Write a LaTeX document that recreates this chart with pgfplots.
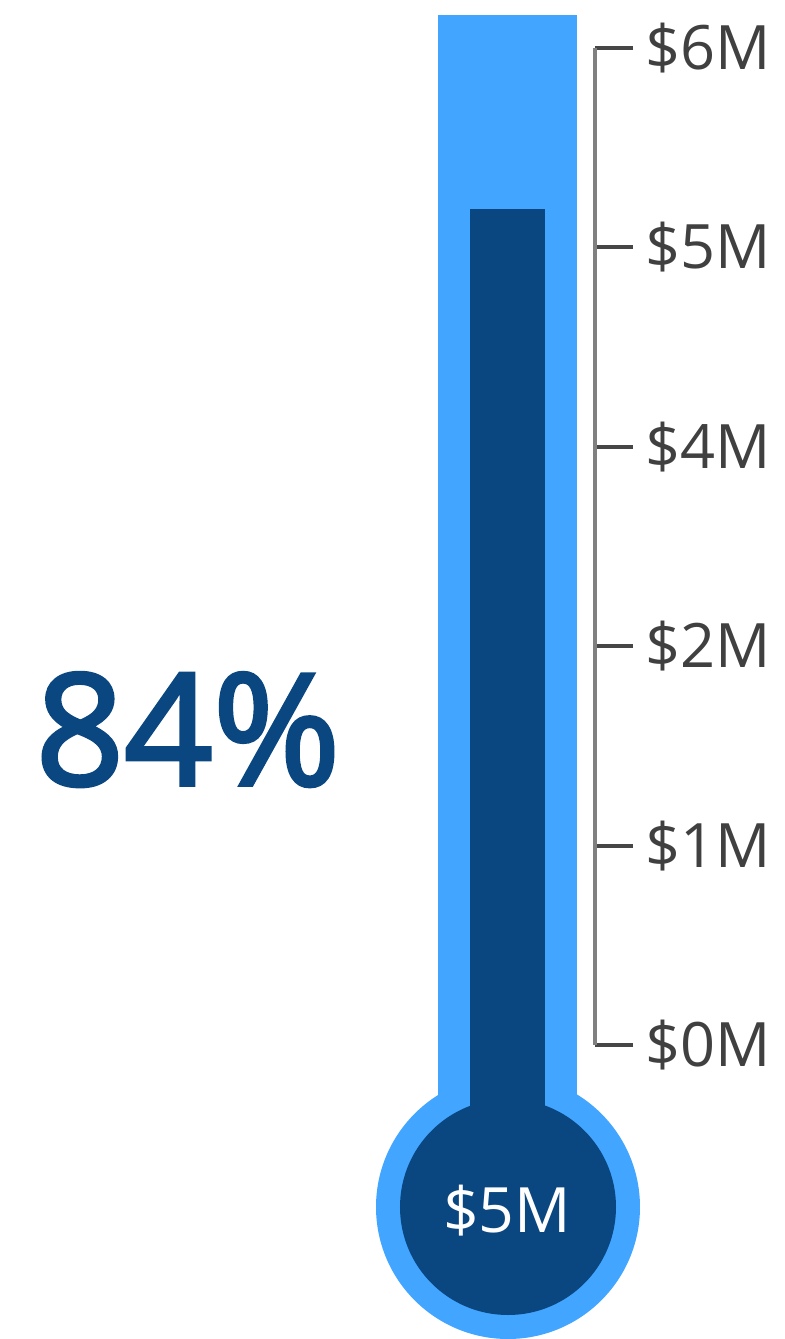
\documentclass[border=0pt]{standalone}
\usepackage{pgfplots}
\pgfplotsset{compat=1.18}
\usepackage{fontspec}
\setmainfont{Open Sans}
\newfontfamily\heavyfont[FakeBold=2.5]{Open Sans}
\definecolor{tubeblue}{RGB}{66,165,255}
\definecolor{fillblue}{RGB}{10,70,128}
\definecolor{axisgray}{RGB}{128,128,128}
\definecolor{tickgray}{RGB}{70,70,70}

\begin{document}
\begin{tikzpicture}
\useasboundingbox (0,0) rectangle (313.6pt,535.6pt);
% thermometer body, x in pixels, y in $M
\begin{axis}[
    at={(0,0)}, anchor=south west,
    scale only axis, width=313.6pt, height=535.6pt,
    xmin=0, xmax=784, ymin=-1.7693, ymax=6.2887,
    hide axis, clip=false
  ]
  \addplot[fill=tubeblue, draw=none] coordinates {(438,-0.98) (438,6.198) (577,6.198) (577,-0.98)} -- cycle;
  \fill[tubeblue] (axis cs:508,-0.975) circle[radius=52.8pt];
  \fill[fillblue] (axis cs:508,-0.975) circle[radius=43.2pt];
  \addplot[fill=fillblue, draw=none] coordinates {(470,-0.98) (470,5.03) (545,5.03) (545,-0.98)} -- cycle;
  \node[anchor=base, text=white, font=\fontsize{25}{30}\selectfont] at (axis cs:507,-1.131) {\$5M};
  \node[anchor=base, text=fillblue, font=\heavyfont\fontsize{62}{70}\selectfont] at (axis cs:188,1.565) {84\%};
\end{axis}
% scale
\begin{axis}[
    at={(238pt,117.6pt)}, anchor=south east,
    scale only axis, width=10pt, height=398.8pt,
    xmin=0, xmax=1, ymin=0, ymax=6,
    axis y line=right, axis x line=none,
    axis line style={axisgray, line width=1.6pt, -},
    ytick={0,1.2,2.4,3.6,4.8,6},
    yticklabels={\$0M,\$1M,\$2M,\$4M,\$5M,\$6M},
    tick align=outside, major tick length=15.2pt,
    tick style={tickgray, line width=1.6pt},
    yticklabel style={font=\fontsize{24.5}{29}\selectfont, text=black!75, xshift=1.5pt},
  ]
  \addplot[draw=none] coordinates {(0,0) (1,6)};
\end{axis}
\end{tikzpicture}
\end{document}
